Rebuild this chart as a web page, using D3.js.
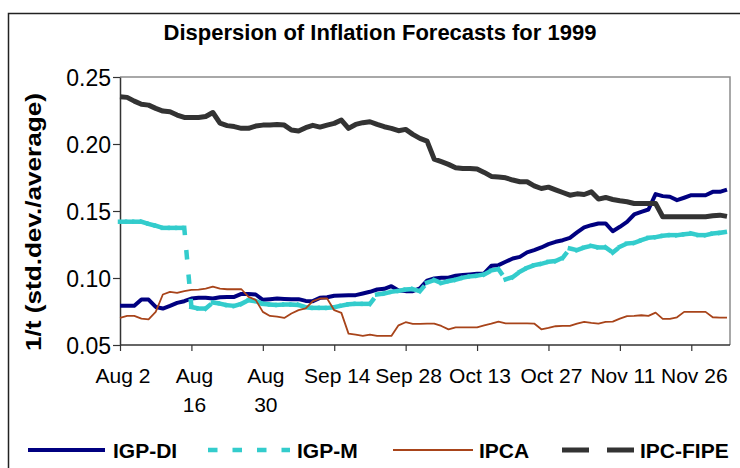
<!DOCTYPE html>
<html>
<head>
<meta charset="utf-8">
<script src="https://cdn.jsdelivr.net/npm/d3@7/dist/d3.min.js"></script>
<style>
body{margin:0;background:#fff;}
text{font-family:"Liberation Sans",Arial,sans-serif;fill:#000;}
</style>
</head>
<body>
<svg width="740" height="468"></svg>
<script>
// business days Aug 2 - Dec 3 1999 (categories)
var dates = [
"Aug 2","Aug 3","Aug 4","Aug 5","Aug 6","Aug 9","Aug 10","Aug 11","Aug 12","Aug 13",
"Aug 16","Aug 17","Aug 18","Aug 19","Aug 20","Aug 23","Aug 24","Aug 25","Aug 26","Aug 27",
"Aug 30","Aug 31","Sep 1","Sep 2","Sep 3","Sep 6","Sep 8","Sep 9","Sep 10","Sep 13",
"Sep 14","Sep 15","Sep 16","Sep 17","Sep 20","Sep 21","Sep 22","Sep 23","Sep 24","Sep 27",
"Sep 28","Sep 29","Sep 30","Oct 1","Oct 4","Oct 5","Oct 6","Oct 7","Oct 8","Oct 11",
"Oct 13","Oct 14","Oct 15","Oct 18","Oct 19","Oct 20","Oct 21","Oct 22","Oct 25","Oct 26",
"Oct 27","Oct 28","Oct 29","Nov 1","Nov 3","Nov 4","Nov 5","Nov 8","Nov 9","Nov 10",
"Nov 11","Nov 12","Nov 16","Nov 17","Nov 18","Nov 19","Nov 22","Nov 23","Nov 24","Nov 25",
"Nov 26","Nov 29","Nov 30","Dec 1","Dec 2","Dec 3"];

// tick labels, one every 10 business days (some wrap on two lines)
var xTickLabels = [["Aug 2"],["Aug","16"],["Aug","30"],["Sep 14"],["Sep 28"],["Oct 13"],["Oct 27"],["Nov 11"],["Nov 26"]];
var yTicks = [0.05,0.10,0.15,0.20,0.25];

var igpDI = [
.0792,.0792,.0792,.0839,.0839,.0784,.0772,.0792,.0814,.0827,
.0847,.0852,.0852,.0847,.0857,.0859,.0859,.0881,.0881,.0877,
.0837,.0842,.0847,.0844,.0842,.0842,.0829,.0827,.0852,.0857,
.0867,.0869,.0872,.0872,.0884,.0897,.0914,.0919,.0939,.0907,
.0902,.0902,.0922,.0980,.0997,.1002,.1002,.1017,.1022,.1027,
.1032,.1034,.1091,.1096,.1121,.1146,.1158,.1191,.1208,.1228,
.1253,.1270,.1282,.1300,.1340,.1378,.1394,.1407,.1407,.1349,
.1382,.1419,.1474,.1494,.1511,.1626,.1611,.1606,.1581,.1599,
.1618,.1618,.1618,.1643,.1643,.1660];

var igpM = [
.1420,.1420,.1420,.1420,.1404,.1390,.1374,.1374,.1374,.1374,
.0784,.0772,.0772,.0817,.0809,.0797,.0792,.0807,.0834,.0827,
.0807,.0802,.0799,.0802,.0802,.0799,.0782,.0777,.0777,.0777,
.0782,.0794,.0804,.0807,.0807,.0807,.0877,.0884,.0897,.0904,
.0914,.0917,.0902,.0965,.0984,.0962,.0977,.0987,.1002,.1012,
.1017,.1027,.1056,.1066,.0989,.1007,.1047,.1076,.1096,.1106,
.1121,.1126,.1151,.1220,.1208,.1228,.1240,.1228,.1228,.1190,
.1233,.1257,.1262,.1282,.1300,.1305,.1315,.1320,.1320,.1327,
.1332,.1320,.1320,.1332,.1337,.1345];

var ipca = [
.0702,.0717,.0717,.0697,.0692,.0747,.0877,.0897,.0889,.0902,
.0911,.0914,.0921,.0936,.0921,.0916,.0916,.0916,.0859,.0837,
.0747,.0717,.0712,.0702,.0735,.0760,.0774,.0827,.0847,.0847,
.0760,.0740,.0585,.0578,.0568,.0578,.0568,.0568,.0568,.0647,
.0670,.0657,.0657,.0660,.0660,.0642,.0617,.0632,.0632,.0632,
.0632,.0647,.0660,.0675,.0662,.0662,.0662,.0662,.0660,.0617,
.0627,.0640,.0642,.0642,.0660,.0672,.0665,.0660,.0672,.0675,
.0697,.0715,.0717,.0722,.0717,.0742,.0695,.0695,.0707,.0747,
.0747,.0747,.0747,.0707,.0705,.0705];

var ipcFipe = [
.2353,.2348,.2320,.2296,.2290,.2266,.2246,.2240,.2216,.2198,
.2198,.2198,.2205,.2235,.2155,.2137,.2130,.2117,.2117,.2134,
.2141,.2141,.2146,.2141,.2104,.2097,.2122,.2139,.2126,.2141,
.2154,.2179,.2117,.2146,.2159,.2166,.2146,.2129,.2117,.2099,
.2109,.2072,.2042,.2022,.1887,.1868,.1848,.1823,.1818,.1818,
.1813,.1788,.1758,.1753,.1748,.1731,.1718,.1718,.1688,.1668,
.1678,.1658,.1638,.1618,.1628,.1623,.1643,.1589,.1601,.1586,
.1576,.1569,.1556,.1556,.1556,.1556,.1457,.1457,.1457,.1457,
.1457,.1457,.1457,.1464,.1469,.1460];

var series = [
  {name:"IGP-DI", values:igpDI, color:"#000080", width:4, dash:null},
  {name:"IGP-M", values:igpM, color:"#33CCCC", width:4.5, dash:"9.5,15"},
  {name:"IPCA", values:ipca, color:"#A8441A", width:1.8, dash:null},
  {name:"IPC-FIPE", values:ipcFipe, color:"#333333", width:5, dash:"27,18"}
];

var plot = {left:120, right:730, top:77, bottom:345};
var svg = d3.select("svg");

var x = d3.scalePoint().domain(dates).range([plot.left, 727]);
var y = d3.scaleLinear().domain([0.05,0.25]).range([plot.bottom, plot.top]);

// outer frame (only top and left edges visible)
svg.append("path").attr("d","M8.5,468 V13.5 H740").attr("fill","none").attr("stroke","#222").attr("stroke-width",1.5);

// title
svg.append("text").attr("x",380).attr("y",40).attr("text-anchor","middle")
   .style("font-size","22px").style("font-weight","bold")
   .text("Dispersion of Inflation Forecasts for 1999");

// plot area border (grey top/right)
svg.append("path").attr("d","M"+plot.left+","+plot.top+" H"+plot.right+" V"+plot.bottom)
   .attr("fill","none").attr("stroke","#8c8c8c").attr("stroke-width",1.5);

// y axis
var yAxis = svg.append("g").attr("transform","translate("+plot.left+",0)")
   .call(d3.axisLeft(y).tickValues(yTicks).tickFormat(d3.format(".2f")).tickSize(7).tickSizeOuter(0));
yAxis.select(".domain").attr("stroke","#333").attr("stroke-width",1.5);
yAxis.selectAll(".tick line").attr("stroke","#333").attr("stroke-width",1.2);
yAxis.selectAll(".tick text").attr("x",-9).attr("dy","0.36em")
   .style("font-size","23px").style("font-family","'Liberation Sans',Arial,sans-serif").attr("fill","#000");

// y title
svg.append("text").attr("transform","translate(41,222) rotate(-90)")
   .attr("text-anchor","middle").attr("textLength",258).attr("lengthAdjust","spacingAndGlyphs")
   .style("font-size","22px").style("font-weight","bold")
   .text("1/t (std.dev./average)");

// x axis
var tickDates = dates.filter(function(d,i){return i%10===0;});
var xAxis = svg.append("g").attr("transform","translate(0,"+plot.bottom+")")
   .call(d3.axisBottom(x).tickValues(tickDates).tickSize(6).tickFormat(""));
xAxis.select(".domain").remove();
xAxis.selectAll(".tick line").attr("stroke","#333").attr("stroke-width",1.2);
svg.append("line").attr("x1",plot.left).attr("x2",plot.right).attr("y1",plot.bottom).attr("y2",plot.bottom)
   .attr("stroke","#333").attr("stroke-width",1.5);

var xl = svg.append("g").selectAll("text").data(tickDates).enter().append("text")
   .attr("text-anchor","middle").style("font-size","21px")
   .attr("transform",function(d){return "translate("+(x(d)+3)+",383)";});
xl.each(function(d,i){
  var t = d3.select(this);
  xTickLabels[i].forEach(function(s,k){
    t.append("tspan").attr("x",0).attr("y",k*29).text(s);
  });
});

// lines
var line = d3.line().x(function(d,i){return x(dates[i]);}).y(function(d){return y(d);});
var lines = svg.append("g");
series.forEach(function(s){
  if(s.name==="IGP-M"){
    // excel restarts the dash pattern on every segment
    lines.append("g").selectAll("line").data(d3.pairs(s.values.map(function(v,i){return [i,v];})))
      .enter().append("line")
      .attr("x1",function(p){return x(dates[p[0][0]]);})
      .attr("y1",function(p){return y(p[0][1]);})
      .attr("x2",function(p){return x(dates[p[1][0]]);})
      .attr("y2",function(p){return y(p[1][1]);})
      .attr("stroke",s.color).attr("stroke-width",s.width)
      .attr("stroke-dasharray","5,19.5").attr("stroke-linecap","square");
  }else{
    lines.append("path").datum(s.values).attr("d",line)
      .attr("fill","none").attr("stroke",s.color).attr("stroke-width",s.width)
      .attr("stroke-linejoin","round");
  }
});

// legend
var legX = [{l:28,r:105,t:113},{l:208,r:290,t:297},{l:393,r:473,t:479},{l:562,r:634,t:640}];
var leg = svg.append("g").selectAll("g").data(series).enter().append("g");
leg.append("line")
   .attr("x1",function(d,i){return legX[i].l;}).attr("x2",function(d,i){return legX[i].r;})
   .attr("y1",450).attr("y2",450)
   .attr("stroke",function(d){return d.color;})
   .attr("stroke-width",function(d){return d.width;})
   .attr("stroke-dasharray",function(d){return d.dash;});
leg.append("text")
   .attr("x",function(d,i){return legX[i].t;}).attr("y",458)
   .style("font-size","21px").style("font-weight","bold")
   .text(function(d){return d.name;});
</script>
</body>
</html>
